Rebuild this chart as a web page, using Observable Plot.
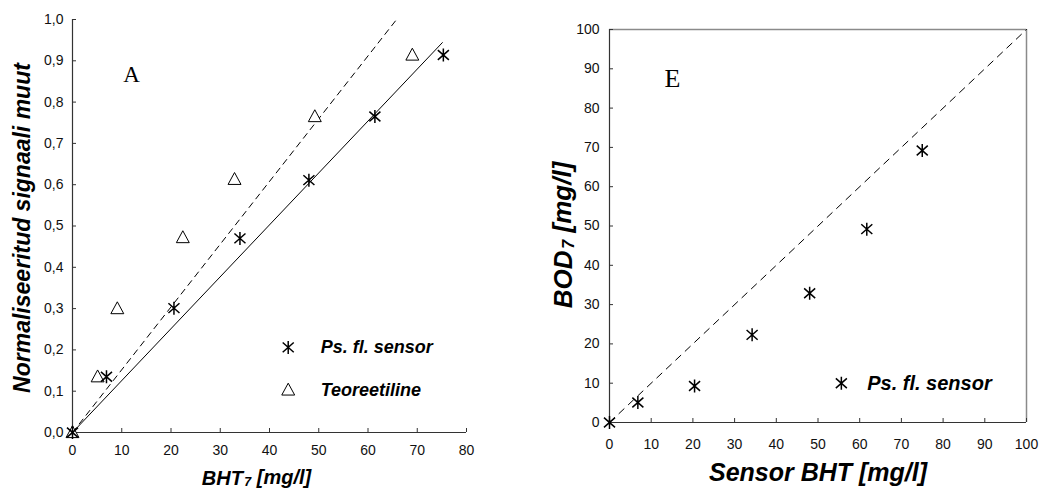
<!DOCTYPE html>
<html>
<head>
<meta charset="utf-8">
<script src="https://cdn.jsdelivr.net/npm/d3@7"></script>
<script src="https://cdn.jsdelivr.net/npm/@observablehq/plot@0.6"></script>
<style>
  html, body { margin: 0; padding: 0; background: #fff; }
  #wrap { position: relative; width: 1039px; height: 490px; overflow: hidden; background: #fff; }
  #left { position: absolute; left: 0; top: 0; }
  #right { position: absolute; left: 520px; top: 0; }
</style>
</head>
<body>
<div id="wrap"><div id="left"></div><div id="right"></div></div>
<script>
// ---------- Panel A data ----------
const sensorBHT_A = [0, 6.9, 20.6, 34.0, 48.0, 61.4, 75.3];
const sensorSignal_A = [0, 0.135, 0.301, 0.470, 0.611, 0.765, 0.914];
const theoryBHT_A = [0, 5.1, 9.1, 22.4, 32.9, 49.2, 69.0];
const theorySignal_A = [0, 0.135, 0.300, 0.472, 0.613, 0.765, 0.914];
const fitSensorX = [0, 75.1];
const fitSensorY = [0, 0.944];
const fitTheoryX = [0, 65.8];
const fitTheoryY = [0, 1.0];
const xTicksA = [0, 10, 20, 30, 40, 50, 60, 70, 80];
const yTicksA = [0, 0.1, 0.2, 0.3, 0.4, 0.5, 0.6, 0.7, 0.8, 0.9, 1.0];
const legendA = ["Ps. fl. sensor", "Teoreetiline"];

// ---------- Panel B data ----------
const sensorBHT_B = [0, 6.8, 20.4, 34.2, 48.0, 61.7, 75.0];
const bod7_B = [0, 5.1, 9.3, 22.3, 32.9, 49.2, 69.2];
const identityX = [0, 100];
const identityY = [0, 100];
const ticksB = [0, 10, 20, 30, 40, 50, 60, 70, 80, 90, 100];
const legendB = ["Ps. fl. sensor"];

// ---------- helpers ----------
const asteriskSym = {
  draw(ctx, size) {
    const r = Math.sqrt(size / Math.PI);
    const a = r * 0.85, b = r * 0.75;
    ctx.moveTo(0, -r); ctx.lineTo(0, r);
    ctx.moveTo(-a, -b); ctx.lineTo(a, b);
    ctx.moveTo(-a, b); ctx.lineTo(a, -b);
  }
};
const triangleSym = {
  draw(ctx, size) {
    const r = Math.sqrt(size / Math.PI);
    const w = r * 0.95;
    ctx.moveTo(0, -r);
    ctx.lineTo(w, r * 0.75);
    ctx.lineTo(-w, r * 0.75);
    ctx.closePath();
  }
};
const comma1 = d => d3.format(".1f")(d).replace(".", ",");
const sans = "'Liberation Sans', Arial, Helvetica, sans-serif";
const serif = "'Liberation Serif', 'Times New Roman', serif";
const tickFont = 14;

function subscriptify(svg, full, base, sub, rest) {
  d3.select(svg).selectAll("text").filter(function () { return this.textContent === full; }).each(function () {
    const t = d3.select(this);
    t.text(null);
    t.append("tspan").text(base);
    t.append("tspan").attr("font-size", "62%").attr("dy", "0.12em").attr("dx", "0.12em").text(sub);
    t.append("tspan").attr("dy", "-0.12em").text(rest);
  });
}

const sensorA = sensorBHT_A.map((x, i) => ({x, y: sensorSignal_A[i]}));
const theoryA = theoryBHT_A.map((x, i) => ({x, y: theorySignal_A[i]}));
const fitS = fitSensorX.map((x, i) => ({x, y: fitSensorY[i]}));
const fitT = fitTheoryX.map((x, i) => ({x, y: fitTheoryY[i]}));
const sensorB = sensorBHT_B.map((x, i) => ({x, y: bod7_B[i]}));
const ident = identityX.map((x, i) => ({x, y: identityY[i]}));

// ---------- Panel A ----------
const chartA = Plot.plot({
  width: 520, height: 490,
  marginLeft: 72, marginRight: 54, marginTop: 19, marginBottom: 58,
  x: {domain: [0, 80]},
  y: {domain: [0, 1]},
  style: {fontFamily: sans, fontSize: "14px", color: "#111", background: "#fff", overflow: "visible"},
  marks: [
    Plot.ruleY([0], {stroke: "#333", strokeWidth: 1.2}),
    Plot.ruleX([0], {stroke: "#333", strokeWidth: 1.2}),
    Plot.axisX({ticks: xTicksA, tickSize: -4, tickPadding: 17, fontSize: tickFont, tickFormat: d => String(d), stroke: "#333", label: null}),
    Plot.axisY({ticks: yTicksA, tickSize: -4, tickPadding: 13, fontSize: tickFont, tickFormat: comma1, stroke: "#333", label: null}),
    Plot.line(fitT, {x: "x", y: "y", stroke: "#000", strokeWidth: 1, strokeDasharray: "6,5"}),
    Plot.line(fitS, {x: "x", y: "y", stroke: "#000", strokeWidth: 1}),
    Plot.dot(theoryA, {x: "x", y: "y", symbol: triangleSym, r: 6.8, stroke: "#000", fill: "#fff", strokeWidth: 1}),
    Plot.dot(sensorA, {x: "x", y: "y", symbol: asteriskSym, r: 6.5, stroke: "#000", fill: "none", strokeWidth: 1.5}),
    // legend
    Plot.dot([legendA[0]], {x: 43.8, y: 0.206, symbol: asteriskSym, r: 6.5, stroke: "#000", fill: "none", strokeWidth: 1.5}),
    Plot.dot([legendA[1]], {x: 43.8, y: 0.103, symbol: triangleSym, r: 6.8, stroke: "#000", fill: "#fff", strokeWidth: 1}),
    Plot.text(legendA, {x: 50.4, y: (d, i) => [0.206, 0.103][i], text: d => d, textAnchor: "start", fontSize: 18, fontWeight: "bold", fontStyle: "italic", fill: "#000"}),
    // panel letter
    Plot.text(["A"], {frameAnchor: "top-left", dx: 59, dy: 46, text: d => d, textAnchor: "middle", fontFamily: serif, fontSize: 23, fill: "#000"}),
    // axis titles
    Plot.text(["Normaliseeritud signaali muut"], {frameAnchor: "left", rotate: -90, dx: -50, dy: 2, text: d => d, textAnchor: "middle", lineAnchor: "middle", fontSize: 23, fontWeight: "bold", fontStyle: "italic", fill: "#000"}),
    Plot.text(["BHT7 [mg/l]"], {frameAnchor: "bottom", dx: -13, dy: 52, text: d => d, textAnchor: "middle", lineAnchor: "bottom", fontSize: 20, fontWeight: "bold", fontStyle: "italic", fill: "#000"})
  ]
});
subscriptify(chartA, "BHT7 [mg/l]", "BHT", "7", " [mg/l]");
document.getElementById("left").appendChild(chartA);

// ---------- Panel B ----------
const chartB = Plot.plot({
  width: 519, height: 490,
  marginLeft: 89, marginRight: 13, marginTop: 29, marginBottom: 68,
  x: {domain: [0, 100]},
  y: {domain: [0, 100]},
  style: {fontFamily: sans, fontSize: "14px", color: "#111", background: "#fff", overflow: "visible"},
  marks: [
    Plot.ruleY([100], {stroke: "#8a8a8a", strokeWidth: 1.5}),
    Plot.ruleX([100], {stroke: "#8a8a8a", strokeWidth: 1.5}),
    Plot.ruleY([0], {stroke: "#333", strokeWidth: 1.2}),
    Plot.ruleX([0], {stroke: "#333", strokeWidth: 1.2}),
    Plot.axisX({ticks: ticksB, tickSize: -4, tickPadding: 21, fontSize: tickFont, tickFormat: d => String(d), stroke: "#333", label: null}),
    Plot.axisY({ticks: ticksB, tickSize: -4, tickPadding: 14, fontSize: tickFont, tickFormat: d => String(d), stroke: "#333", label: null}),
    Plot.line(ident, {x: "x", y: "y", stroke: "#000", strokeWidth: 1, strokeDasharray: "7,6"}),
    Plot.dot(sensorB, {x: "x", y: "y", symbol: asteriskSym, r: 6.5, stroke: "#000", fill: "none", strokeWidth: 1.5}),
    // legend
    Plot.dot(legendB, {x: 55.6, y: 10, symbol: asteriskSym, r: 6.5, stroke: "#000", fill: "none", strokeWidth: 1.5}),
    Plot.text(legendB, {x: 61.8, y: 10, text: d => d, textAnchor: "start", lineAnchor: "middle", fontSize: 20, fontWeight: "bold", fontStyle: "italic", fill: "#000"}),
    // panel letter
    Plot.text(["E"], {frameAnchor: "top-left", dx: 55, dy: 39, text: d => d, textAnchor: "start", fontFamily: serif, fontSize: 26, fill: "#000"}),
    // axis titles
    Plot.text(["BOD7 [mg/l]"], {frameAnchor: "left", rotate: -90, dx: -46, dy: 9, text: d => d, textAnchor: "middle", lineAnchor: "middle", fontSize: 26, fontWeight: "bold", fontStyle: "italic", fill: "#000"}),
    Plot.text(["Sensor BHT [mg/l]"], {frameAnchor: "bottom", dx: 0, dy: 58, text: d => d, textAnchor: "middle", lineAnchor: "bottom", fontSize: 25, fontWeight: "bold", fontStyle: "italic", fill: "#000"})
  ]
});
subscriptify(chartB, "BOD7 [mg/l]", "BOD", "7", " [mg/l]");
document.getElementById("right").appendChild(chartB);
</script>
</body>
</html>
